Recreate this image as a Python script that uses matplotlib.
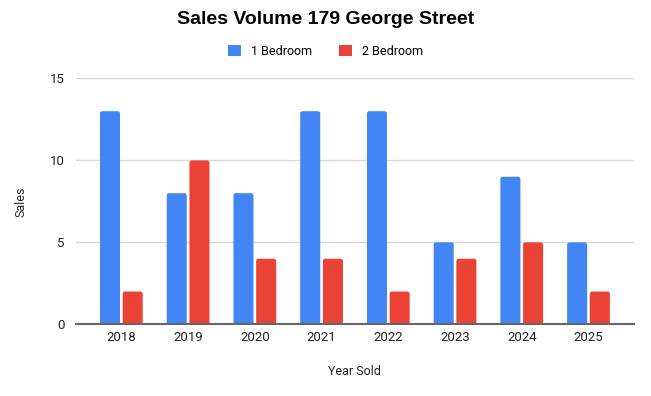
import numpy as np
import matplotlib.pyplot as plt
from matplotlib.patches import FancyBboxPatch, Patch

years = ['2018', '2019', '2020', '2021', '2022', '2023', '2024', '2025']
one_bed = [13, 8, 8, 13, 13, 5, 9, 5]
two_bed = [2, 10, 4, 4, 2, 4, 5, 2]

blue = '#4285F4'
red = '#EA4335'

plt.rcParams['font.family'] = ['Roboto', 'DejaVu Sans']

fig = plt.figure(figsize=(6.51, 3.96), dpi=100)
ax = fig.add_axes([0.1167, 0.181, 0.857, 0.621])

x = np.arange(len(years))
w = 0.30
off = 0.17
ax.set_xlim(-0.68, len(years) - 1 + 0.68)
ax.set_ylim(0, 15)

# rounded bars
asp = (0.621 * 396 / 15) / (0.857 * 651 / (len(years) - 1 + 1.36))
asp = 1 / asp
for vals, dx, col in [(one_bed, -off, blue), (two_bed, off, red)]:
	bars = ax.bar(x + dx, vals, width=w, color=col)
	for b in bars:
		b.set_visible(False)
		p = FancyBboxPatch((b.get_x(), 0), b.get_width(), b.get_height(),
			boxstyle='round,pad=0,rounding_size=0.035', mutation_aspect=asp,
			facecolor=col, edgecolor='none', zorder=3)
		ax.add_patch(p)

ax.set_yticks([0, 5, 10, 15])
ax.set_xticks(x)
ax.set_xticklabels(years)
ax.tick_params(axis='both', length=0, labelsize=9.5, colors='#222222')
ax.tick_params(axis='y', pad=8)
ax.tick_params(axis='x', pad=5)
ax.grid(axis='y', color='#d9d9d9', linewidth=1, zorder=0)
ax.set_axisbelow(True)
for s in ['left', 'right', 'top']:
	ax.spines[s].set_visible(False)
ax.spines['bottom'].set_color('#666666')
ax.spines['bottom'].set_linewidth(1.5)
ax.spines['bottom'].set_zorder(4)

ax.set_ylabel('Sales', fontsize=9, color='#222222', labelpad=16)
ax.set_xlabel('Year Sold', fontsize=9, color='#222222', labelpad=15)

fig.suptitle('Sales Volume 179 George Street', x=0.5, y=0.972, fontsize=14,
	fontweight='bold', family=['Liberation Sans', 'DejaVu Sans'])

handles = [Patch(facecolor=blue, label='1 Bedroom'), Patch(facecolor=red, label='2 Bedroom')]
fig.legend(handles=handles, loc='center', bbox_to_anchor=(0.5, 0.87), ncol=2,
	frameon=False, fontsize=9, handlelength=1.0, handleheight=1.0,
	columnspacing=2.2, handletextpad=0.8)

plt.savefig('out.png', dpi=100)
